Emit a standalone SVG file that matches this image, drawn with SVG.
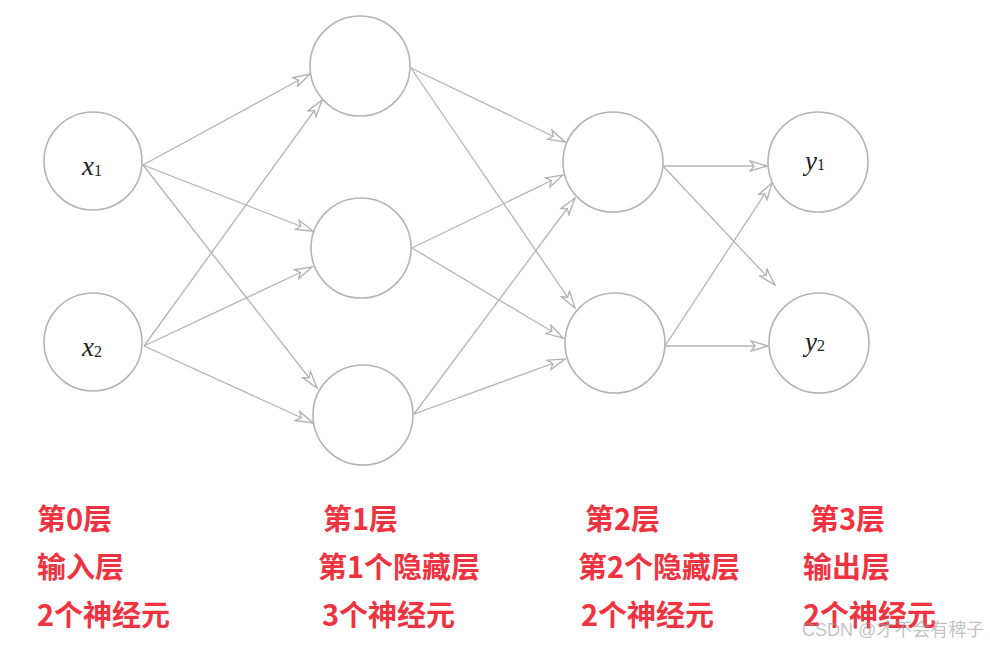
<svg xmlns="http://www.w3.org/2000/svg" width="990" height="646" viewBox="0 0 990 646">
<style>
.node{fill:#fff;stroke:#b4b4b4;stroke-width:1.6}
.edge{stroke:#b4b4b4;stroke-width:1.3;fill:none;marker-end:url(#arr)}
.math{font-family:"Liberation Serif","DejaVu Serif",serif;font-style:italic;font-size:27px;fill:#222}
.sub{font-style:normal;font-size:16px}
.lab{font-family:"Noto Sans CJK SC","Noto Sans",sans-serif;font-weight:bold;font-size:29px;fill:#ef3340}
.wm{font-family:"Liberation Sans","Noto Sans CJK SC",sans-serif;font-size:18px;fill:#9a9a9a;fill-opacity:0.6}
</style>
<defs>
<marker id="arr" markerUnits="userSpaceOnUse" markerWidth="20" markerHeight="16" viewBox="0 0 20 16" refX="18" refY="8" orient="auto">
<path d="M1,3 L18,8 L1,13 L5,8 z" fill="#fff" stroke="#b4b4b4" stroke-width="1.4" stroke-linejoin="miter"/>
</marker>
</defs>
<rect width="990" height="646" fill="#fff"/>
<g id="connectors">
<line class="edge" x1="143" y1="165" x2="310" y2="74"/>
<line class="edge" x1="143" y1="165" x2="313" y2="231"/>
<line class="edge" x1="143" y1="165" x2="317" y2="388"/>
<line class="edge" x1="144" y1="346" x2="322" y2="100"/>
<line class="edge" x1="144" y1="346" x2="312" y2="267"/>
<line class="edge" x1="144" y1="346" x2="313" y2="423"/>
<line class="edge" x1="411" y1="68" x2="565" y2="142"/>
<line class="edge" x1="411" y1="68" x2="575" y2="308"/>
<line class="edge" x1="412" y1="248" x2="563" y2="175"/>
<line class="edge" x1="412" y1="248" x2="563" y2="338"/>
<line class="edge" x1="414" y1="414" x2="575" y2="198"/>
<line class="edge" x1="414" y1="414" x2="565" y2="359"/>
<line class="edge" x1="663" y1="166" x2="767" y2="166"/>
<line class="edge" x1="663" y1="166" x2="775" y2="285"/>
<line class="edge" x1="665" y1="346" x2="772" y2="183"/>
<line class="edge" x1="665" y1="346" x2="768" y2="346"/>
</g>
<g id="x1"><circle class="node" cx="93" cy="161" r="49"/><text class="math" x="82" y="175">x<tspan class="sub" dy="1">1</tspan></text></g>
<g id="x2"><circle class="node" cx="93" cy="342" r="49"/><text class="math" x="82" y="356">x<tspan class="sub" dy="1">2</tspan></text></g>
<g id="h1_1"><circle class="node" cx="360" cy="66" r="50"/></g>
<g id="h1_2"><circle class="node" cx="361" cy="248" r="50"/></g>
<g id="h1_3"><circle class="node" cx="363" cy="415" r="50"/></g>
<g id="h2_1"><circle class="node" cx="613" cy="162" r="50"/></g>
<g id="h2_2"><circle class="node" cx="615" cy="343" r="50"/></g>
<g id="y1"><circle class="node" cx="818" cy="162" r="50"/><text class="math" x="805" y="170">y<tspan class="sub" dy="0">1</tspan></text></g>
<g id="y2"><circle class="node" cx="819" cy="343" r="50"/><text class="math" x="805" y="351">y<tspan class="sub" dy="0">2</tspan></text></g>
<g id="labels">
<text class="lab" x="37" y="530">第0层</text>
<text class="lab" x="37" y="578">输入层</text>
<text class="lab" x="37" y="626">2个神经元</text>
<text class="lab" x="323" y="530">第1层</text>
<text class="lab" x="318" y="578">第1个隐藏层</text>
<text class="lab" x="322" y="626">3个神经元</text>
<text class="lab" x="585" y="530">第2层</text>
<text class="lab" x="578" y="578">第2个隐藏层</text>
<text class="lab" x="581" y="626">2个神经元</text>
<text class="lab" x="810" y="530">第3层</text>
<text class="lab" x="803" y="578">输出层</text>
<text class="lab" x="803" y="626">2个神经元</text>
</g>
<text class="wm" x="802" y="636">CSDN @才不会有稗子</text>
</svg>
